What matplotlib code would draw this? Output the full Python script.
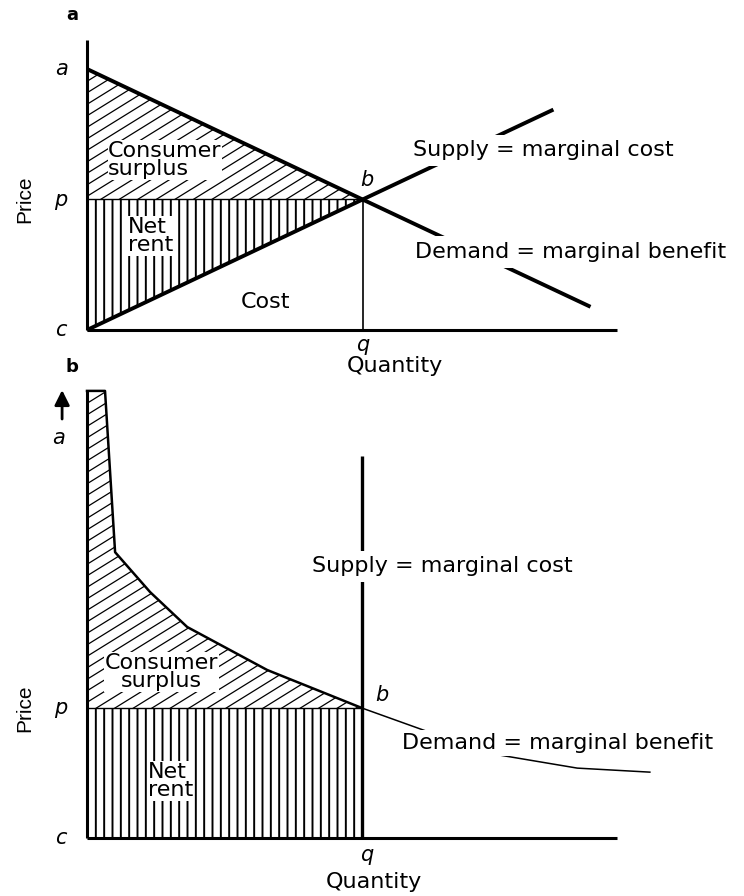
import numpy as np
import matplotlib
matplotlib.use('Agg')
import matplotlib.pyplot as plt
from matplotlib.patches import Polygon
from matplotlib.transforms import IdentityTransform

plt.rcParams['font.family'] = ['DejaVu Sans']
plt.rcParams['hatch.linewidth'] = 1.4

# ---------------- data ----------------
# panel a (linear supply & demand)
a_price_a = 90
a_price_p = 45
a_qty_q = 52
a_demand_q = [0, 52, 95]
a_demand_p = [90, 45, 8]
a_supply_q = [0, 52, 88]
a_supply_p = [0, 45, 76]

# panel b (kinked demand, vertical supply)
b_demand_q = [0, 3.4, 5.3, 11.9, 18.9, 34.0, 51.9, 65.1, 77.9, 92.5, 106.2]
b_demand_p = [99.8, 99.8, 63.8, 54.9, 47.1, 37.5, 29.0, 23.4, 18.5, 15.6, 14.7]
b_price_a = 89.3
b_price_p = 29.0
b_qty_q = 51.9
b_supply_top = 85.3

# ---------------- figure ----------------
W, H = 744, 896
fig = plt.figure(figsize=(W / 100, H / 100), dpi=100)
fig.patch.set_facecolor('white')

ax1 = fig.add_axes([87 / W, (H - 330) / H, 530 / W, 290 / H])
ax2 = fig.add_axes([87 / W, (H - 838) / H, 530 / W, 448 / H])
for ax in (ax1, ax2):
    ax.set_xlim(0, 100)
    ax.set_ylim(0, 100)
    ax.set_autoscale_on(False)
    ax.axis('off')

lab_fs = 16
tick_fs = 15
price_kw = dict(fontsize=15, rotation=90, ha='center', va='center', family='Liberation Sans')


def tight_box(pad):
    return dict(facecolor='white', edgecolor='none', pad=pad)


def diag_hatch(ax, patch, spacing=11.5, slope=0.62, lw=0.9):
    """Shallow '/' hatching clipped to a patch (drawn in pixel space)."""
    for b in np.arange(-slope * W - 20, H + 20, spacing):
        ln, = ax.plot([0, W], [b, b + slope * W], transform=IdentityTransform(),
                      color='black', lw=lw, zorder=1.5)
        ln.set_clip_path(patch)


# ===== panel a =====
ax = ax1
cs = Polygon([(a_demand_q[0], a_demand_p[0]), (a_qty_q, a_price_p), (0, a_price_p)],
             closed=True, facecolor='white', edgecolor='none', lw=0, zorder=1)
ax.add_patch(cs)
diag_hatch(ax, cs)
nr = Polygon([(0, a_price_p), (a_qty_q, a_price_p), (a_supply_q[0], a_supply_p[0])],
             closed=True, facecolor='white', edgecolor='black', hatch='||', lw=0, zorder=1)
ax.add_patch(nr)
ax.plot([0, a_qty_q], [a_price_p, a_price_p], color='black', lw=1.0, zorder=2)
ax.plot([a_qty_q, a_qty_q], [0, a_price_p], color='black', lw=1.2, zorder=2)
ax.plot([0, 0], [0, 100], color='black', lw=2.2, clip_on=False, zorder=3, solid_capstyle='butt')
ax.plot([0, 100], [0, 0], color='black', lw=2.2, clip_on=False, zorder=3, solid_capstyle='butt')
ax.plot(a_demand_q, a_demand_p, color='black', lw=2.8, clip_on=False, zorder=3, solid_capstyle='butt')
ax.plot(a_supply_q, a_supply_p, color='black', lw=2.8, clip_on=False, zorder=3, solid_capstyle='butt')

ax.text(4.0, 58.6, 'Consumer\nsurplus', fontsize=lab_fs, ha='left', va='center',
        linespacing=0.9, bbox=tight_box(0.5), zorder=4)
ax.text(7.7, 32.4, 'Net\nrent', fontsize=lab_fs, ha='left', va='center',
        linespacing=0.9, bbox=tight_box(0.5), zorder=4)
ax.text(33.6, 9.7, 'Cost', fontsize=lab_fs, ha='center', va='center', zorder=4)
ax.text(61.5, 62.0, 'Supply = marginal cost', fontsize=lab_fs, ha='left', va='center',
        bbox=tight_box(4), zorder=5, clip_on=False)
ax.text(61.9, 26.9, 'Demand = marginal benefit', fontsize=lab_fs, ha='left', va='center',
        bbox=tight_box(4), zorder=5, clip_on=False)

ax.text(-4.9, a_price_a, 'a', fontsize=tick_fs, style='italic', ha='center', va='center')
ax.text(-4.9, a_price_p, 'p', fontsize=tick_fs, style='italic', ha='center', va='center')
ax.text(-4.9, 0, 'c', fontsize=tick_fs, style='italic', ha='center', va='center')
ax.text(a_qty_q, -5.2, 'q', fontsize=tick_fs, style='italic', ha='center', va='center')
ax.text(58.1, -12.4, 'Quantity', fontsize=lab_fs, ha='center', va='center')
ax.text(-11.8, a_price_p, 'Price', **price_kw)
ax.text(52.8, 51.7, 'b', fontsize=tick_fs, style='italic', ha='center', va='center')
ax.text(-2.8, 108.5, 'a', fontsize=13, fontweight='bold', ha='center', va='center')

# ===== panel b =====
ax = ax2
cs_pts = [(x, y) for x, y in zip(b_demand_q, b_demand_p) if x <= b_qty_q] + [(0, b_price_p)]
cs_b = Polygon(cs_pts, closed=True, facecolor='white', edgecolor='none', lw=0, zorder=1)
ax.add_patch(cs_b)
diag_hatch(ax, cs_b)
ax.add_patch(Polygon([(0, 0), (b_qty_q, 0), (b_qty_q, b_price_p), (0, b_price_p)], closed=True,
                     facecolor='white', edgecolor='black', hatch='||', lw=0, zorder=1))
ax.plot([0, b_qty_q], [b_price_p, b_price_p], color='black', lw=1.0, zorder=2)
ax.plot([0, 0], [0, 100], color='black', lw=2.2, clip_on=False, zorder=3, solid_capstyle='butt')
ax.plot([0, 100], [0, 0], color='black', lw=2.2, clip_on=False, zorder=3, solid_capstyle='butt')
k = b_demand_q.index(b_qty_q)
ax.plot(b_demand_q[:k + 1], b_demand_p[:k + 1], color='black', lw=1.8, zorder=3, clip_on=False)
ax.plot(b_demand_q[k:], b_demand_p[k:], color='black', lw=1.1, zorder=3, clip_on=False)
ax.plot([b_qty_q, b_qty_q], [0, b_supply_top], color='black', lw=2.4, zorder=3,
        solid_capstyle='butt')

ax.text(14.0, 37.0, 'Consumer\nsurplus', fontsize=lab_fs, ha='center', va='center',
        linespacing=0.9, bbox=tight_box(0.5), zorder=4)
ax.text(11.5, 12.7, 'Net\nrent', fontsize=lab_fs, ha='left', va='center',
        linespacing=0.9, bbox=tight_box(0.5), zorder=4)
ax.text(42.5, 60.7, 'Supply = marginal cost', fontsize=lab_fs, ha='left', va='center',
        bbox=tight_box(4), zorder=5, clip_on=False)
ax.text(59.4, 21.2, 'Demand = marginal benefit', fontsize=lab_fs, ha='left', va='center',
        bbox=tight_box(2), zorder=5, clip_on=False)

ax.annotate('', xy=(-4.7, 100.6), xytext=(-4.7, 92.9), xycoords='data', textcoords='data',
            arrowprops=dict(arrowstyle='-|>,head_length=0.9,head_width=0.45', color='black',
                            lw=2.0), annotation_clip=False)
ax.text(-5.3, b_price_a, 'a', fontsize=tick_fs, style='italic', ha='center', va='center')
ax.text(-4.9, b_price_p, 'p', fontsize=tick_fs, style='italic', ha='center', va='center')
ax.text(-4.9, 0, 'c', fontsize=tick_fs, style='italic', ha='center', va='center')
ax.text(52.8, -3.8, 'q', fontsize=tick_fs, style='italic', ha='center', va='center')
ax.text(54.2, -9.8, 'Quantity', fontsize=lab_fs, ha='center', va='center')
ax.text(-11.8, b_price_p, 'Price', **price_kw)
ax.text(55.7, 31.9, 'b', fontsize=tick_fs, style='italic', ha='center', va='center')
ax.text(-2.8, 105.1, 'b', fontsize=13, fontweight='bold', ha='center', va='center')

fig.savefig('out.png', dpi=100, facecolor='white')
